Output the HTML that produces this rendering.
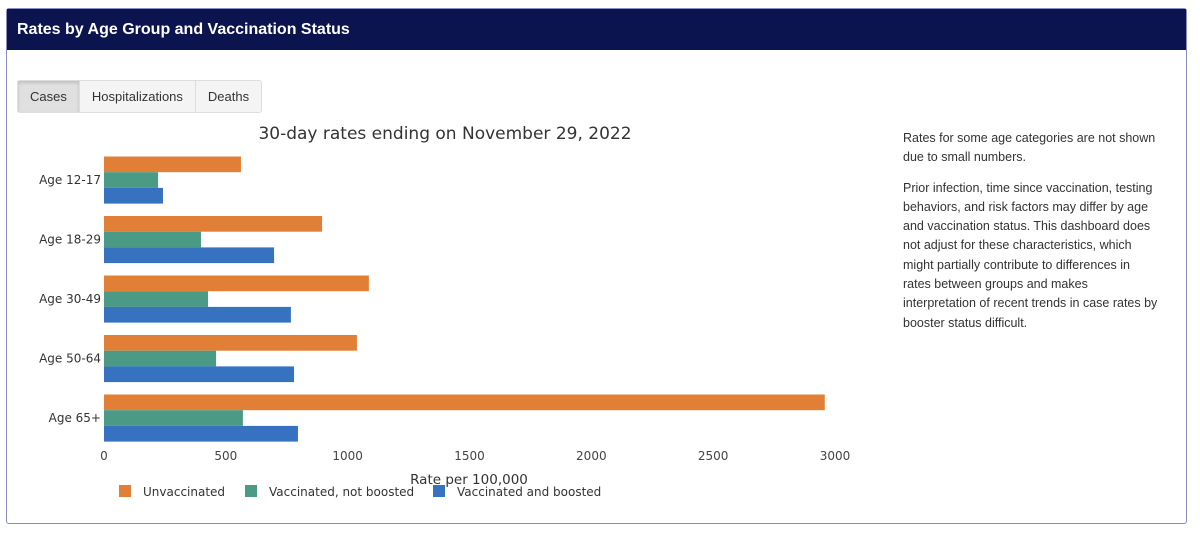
<!DOCTYPE html>
<html><head><meta charset="utf-8"><style>
body{margin:0;width:1200px;height:541px;background:#fff;position:relative;overflow:hidden;font-family:"Liberation Sans",sans-serif}
.card{position:absolute;left:6px;top:8px;width:1181px;height:516px;border:1.5px solid #8a8cc0;border-radius:3px;box-sizing:border-box}
.hdr{position:absolute;left:0;top:0;right:0;height:41px;background:#0c1450;color:#fff;font-size:16px;font-weight:bold;line-height:41px;padding-left:10px}
.tabs{position:absolute;left:10px;top:71px;display:flex;border:1px solid #ddd;border-radius:3px;background:#f4f4f4}
.tab{font-size:13px;color:#333;padding:0 12px;height:31px;line-height:31px;border-right:1px solid #ddd}
.tab.on{background:#e0e0e0;box-shadow:inset 0 2px 3px rgba(0,0,0,.15)}
.note{position:absolute;left:896px;top:120px;font-size:12.5px;color:#333;line-height:19.3px}
.note p{margin:0 0 11px 0}
</style></head><body>
<div class="card">
<div class="hdr">Rates by Age Group and Vaccination Status</div>
<div class="tabs">
<div class="tab on">Cases</div>
<div class="tab">Hospitalizations</div>
<div class="tab" style="border-right:none">Deaths</div>
</div>
<div class="note">
<p>Rates for some age categories are not shown<br>due to small numbers.</p>
<p>Prior infection, time since vaccination, testing<br>behaviors, and risk factors may differ by age<br>and vaccination status. This dashboard does<br>not adjust for these characteristics, which<br>might partially contribute to differences in<br>rates between groups and makes<br>interpretation of recent trends in case rates by<br>booster status difficult.</p>
</div>
</div>
<svg id="chart" width="1200" height="541" style="position:absolute;left:0;top:0">
<text x="445" y="139" text-anchor="middle" font-size="17" fill="#333" font-family="DejaVu Sans, sans-serif">30-day rates ending on November 29, 2022</text>
<text x="469" y="484" text-anchor="middle" font-size="13.5" fill="#333" font-family="DejaVu Sans, sans-serif">Rate per 100,000</text>
</svg>
<script>
const categories=["Age 12-17","Age 18-29","Age 30-49","Age 50-64","Age 65+"];
const unvaccinated=[562,895,1087,1038,2958];
const notBoosted=[222,398,427,460,570];
const boosted=[242,698,767,780,796];
const tickValues=[0,500,1000,1500,2000,2500,3000];
const seriesNames=["Unvaccinated","Vaccinated, not boosted","Vaccinated and boosted"];
const colors=["#e07f35","#4a9a85","#3672c0"];
const svg=document.getElementById('chart');
const NS="http://www.w3.org/2000/svg";
const x=v=>104+v*(731/3000);
const yc=i=>180+i*59.5;
function mk(t,a){const e=document.createElementNS(NS,t);for(const k in a)e.setAttribute(k,a[k]);svg.appendChild(e);return e;}
tickValues.forEach(v=>{
 const t=mk('text',{x:x(v),y:460,'text-anchor':'middle','font-size':12,fill:'#444','font-family':'DejaVu Sans, sans-serif'});
 
 
 t.textContent=v;
});
const series=[unvaccinated,notBoosted,boosted];
categories.forEach((c,i)=>{
 const l=mk('text',{x:101,y:yc(i)+4,'text-anchor':'end','font-size':12,fill:'#333','font-family':'DejaVu Sans, sans-serif'});
 
 
 l.textContent=c;
 series.forEach((s,j)=>{
  const r=mk('rect',{x:x(0),y:yc(i)-23.5+j*15.7,width:x(s[i])-x(0),height:15.7,fill:colors[j]});
  
  
 });
});
const lx=[119,245,433];
seriesNames.forEach((n,j)=>{
 const r=mk('rect',{x:lx[j],y:485,width:12,height:12,fill:colors[j]});
 
 
 const t=mk('text',{x:lx[j]+24,y:496,'font-size':12,fill:'#333','font-family':'DejaVu Sans, sans-serif'});
 
 
 t.textContent=n;
});
</script>
</body></html>
